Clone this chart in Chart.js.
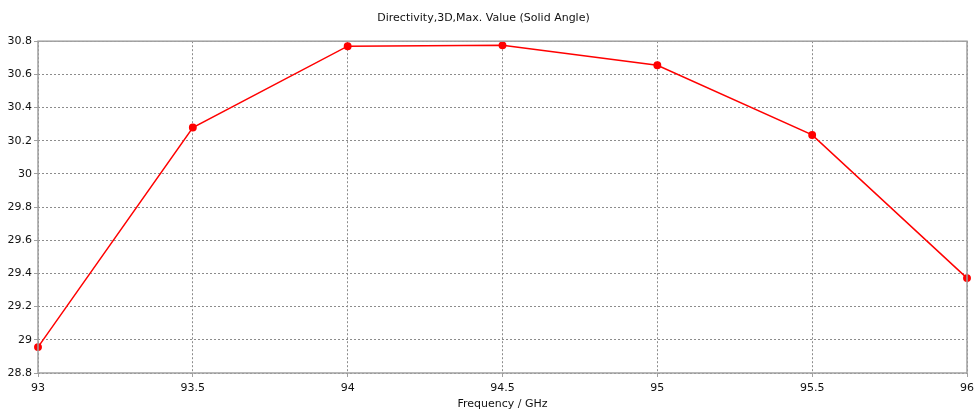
<!DOCTYPE html>
<html>
<head>
<meta charset="utf-8">
<script src="https://cdn.jsdelivr.net/npm/chart.js@4/dist/chart.umd.min.js"></script>
<style>
html,body{margin:0;padding:0;background:#fff}
#wrap{width:976px;height:409px;position:relative}
</style>
</head>
<body>
<div id="wrap"><canvas id="c"></canvas></div>
<script>
const freq=[93,93.5,94,94.5,95,95.5,96]
const directivity=[28.956,30.28,30.77,30.775,30.655,30.235,29.372]
const xTicks=[93,93.5,94,94.5,95,95.5,96]
const yTicks=[28.8,29,29.2,29.4,29.6,29.8,30,30.2,30.4,30.6,30.8]

const titleText="Directivity,3D,Max. Value (Solid Angle)"
const xTitle="Frequency / GHz"

const FONT="'DejaVu Sans', Tahoma, sans-serif"

// box round the plot area, like the reference
const frame={
id:"frame",
afterDraw(chart){
const a=chart.chartArea
const ctx=chart.ctx
ctx.save()
ctx.strokeStyle="#a0a0a0"
ctx.lineWidth=1.5
ctx.strokeRect(a.left,a.top,a.right-a.left,a.bottom-a.top)
ctx.restore()
}
}

const gridOpts={
color:"#8c8c8c",
lineWidth:1,
tickLength:4,
tickColor:"#a0a0a0",
tickBorderDash:[]
}

new Chart(document.getElementById("c"),{
type:"line",
data:{
datasets:[{
label:"Directivity",
data:freq.map((f,i)=>({x:f,y:directivity[i]})),
borderColor:"#ff0000",
backgroundColor:"#ff0000",
borderWidth:1.5,
pointRadius:3.2,
pointHoverRadius:3.2,
tension:0,
clip:false
}]
},
options:{
responsive:true,
maintainAspectRatio:false,
animation:false,
events:[],
layout:{autoPadding:false,padding:{left:0,right:9,top:0,bottom:0}},
plugins:{
legend:{display:false},
tooltip:{enabled:false},
title:{
display:true,
text:titleText,
color:"#111",
font:{family:FONT,size:11,weight:"normal"},
padding:{top:12,bottom:16}
}
},
scales:{
x:{
type:"linear",
min:93,
max:96,
afterBuildTicks(s){s.ticks=xTicks.map(v=>({value:v}))},
afterFit(s){s.height=36;s.paddingRight=0;s.paddingLeft=0},
ticks:{
color:"#111",
font:{family:FONT,size:11},
padding:5,
maxRotation:0,
callback:v=>String(+v.toFixed(1))
},
grid:gridOpts,
border:{display:false,dash:[2,2]},
title:{
display:true,
text:xTitle,
color:"#111",
font:{family:FONT,size:11},
padding:{top:3,bottom:-2}
}
},
y:{
type:"linear",
min:28.8,
max:30.8,
afterBuildTicks(s){s.ticks=yTicks.map(v=>({value:v}))},
afterFit(s){s.width=38;s.paddingTop=0;s.paddingBottom=0},
ticks:{
color:"#111",
font:{family:FONT,size:11},
padding:2,
callback:v=>String(+v.toFixed(1))
},
grid:gridOpts,
border:{display:false,dash:[2,2]}
}
}
},
plugins:[frame]
})
</script>
</body>
</html>
